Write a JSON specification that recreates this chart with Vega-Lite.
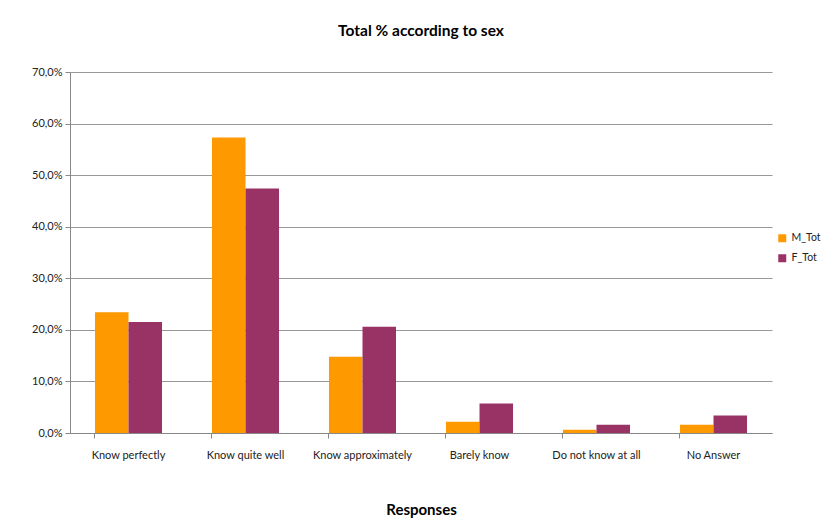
{
  "$schema": "https://vega.github.io/schema/vega-lite/v6.json",
  "width": 702,
  "height": 361,
  "autosize": "none",
  "padding": {"left": 70, "top": 72, "right": 68, "bottom": 90},
  "background": "white",
  "title": {"text": "Total % according to sex", "font": "Lato", "fontSize": 15.5, "fontWeight": "bold", "color": "black", "offset": 27, "anchor": "middle"},
  "data": {"values": [
    {"response": "Know perfectly", "series": "M_Tot", "value": 23.4},
    {"response": "Know perfectly", "series": "F_Tot", "value": 21.5},
    {"response": "Know quite well", "series": "M_Tot", "value": 57.3},
    {"response": "Know quite well", "series": "F_Tot", "value": 47.4},
    {"response": "Know approximately", "series": "M_Tot", "value": 14.8},
    {"response": "Know approximately", "series": "F_Tot", "value": 20.6},
    {"response": "Barely know", "series": "M_Tot", "value": 2.2},
    {"response": "Barely know", "series": "F_Tot", "value": 5.7},
    {"response": "Do not know at all", "series": "M_Tot", "value": 0.65},
    {"response": "Do not know at all", "series": "F_Tot", "value": 1.6},
    {"response": "No Answer", "series": "M_Tot", "value": 1.6},
    {"response": "No Answer", "series": "F_Tot", "value": 3.4}
  ]},
  "mark": {"type": "bar"},
  "encoding": {
    "x": {
      "field": "response", "type": "nominal", "sort": null,
      "scale": {"paddingInner": 0.427, "paddingOuter": 0.2135},
      "axis": {"title": "Responses", "titleFont": "Lato", "titleFontSize": 15, "titleFontWeight": "bold", "titleColor": "black", "titlePadding": 42,
               "labelAngle": 0, "labelFont": "Lato", "labelFontSize": 11, "labelColor": "#222", "labelPadding": 11,
               "bandPosition": 0, "ticks": true, "tickColor": "#888", "tickSize": 5, "domainColor": "#888", "grid": false}
    },
    "xOffset": {"field": "series", "type": "nominal", "sort": ["M_Tot", "F_Tot"], "scale": {"paddingInner": 0, "paddingOuter": 0}},
    "y": {
      "field": "value", "type": "quantitative",
      "scale": {"domain": [0, 70], "nice": false},
      "axis": {"title": null, "values": [0, 10, 20, 30, 40, 50, 60, 70],
               "labelExpr": "replace(format(datum.value, '.1f'), '.', ',') + '%'",
               "labelFont": "Lato", "labelFontSize": 11, "labelColor": "#222", "labelPadding": 3,
               "tickColor": "#888", "tickSize": 5, "domainColor": "#888",
               "grid": true, "gridColor": "#999", "gridWidth": 1}
    },
    "color": {
      "field": "series", "type": "nominal", "sort": ["M_Tot", "F_Tot"],
      "scale": {"domain": ["M_Tot", "F_Tot"], "range": ["#FF9900", "#993366"]},
      "legend": {"title": null, "orient": "none", "legendX": 707, "legendY": 161, "symbolType": "square", "symbolSize": 64,
                 "labelFont": "Lato", "labelFontSize": 10.5, "labelColor": "#222", "rowPadding": 9, "symbolStrokeWidth": 0}
    }
  },
  "config": {"view": {"stroke": null}}
}
